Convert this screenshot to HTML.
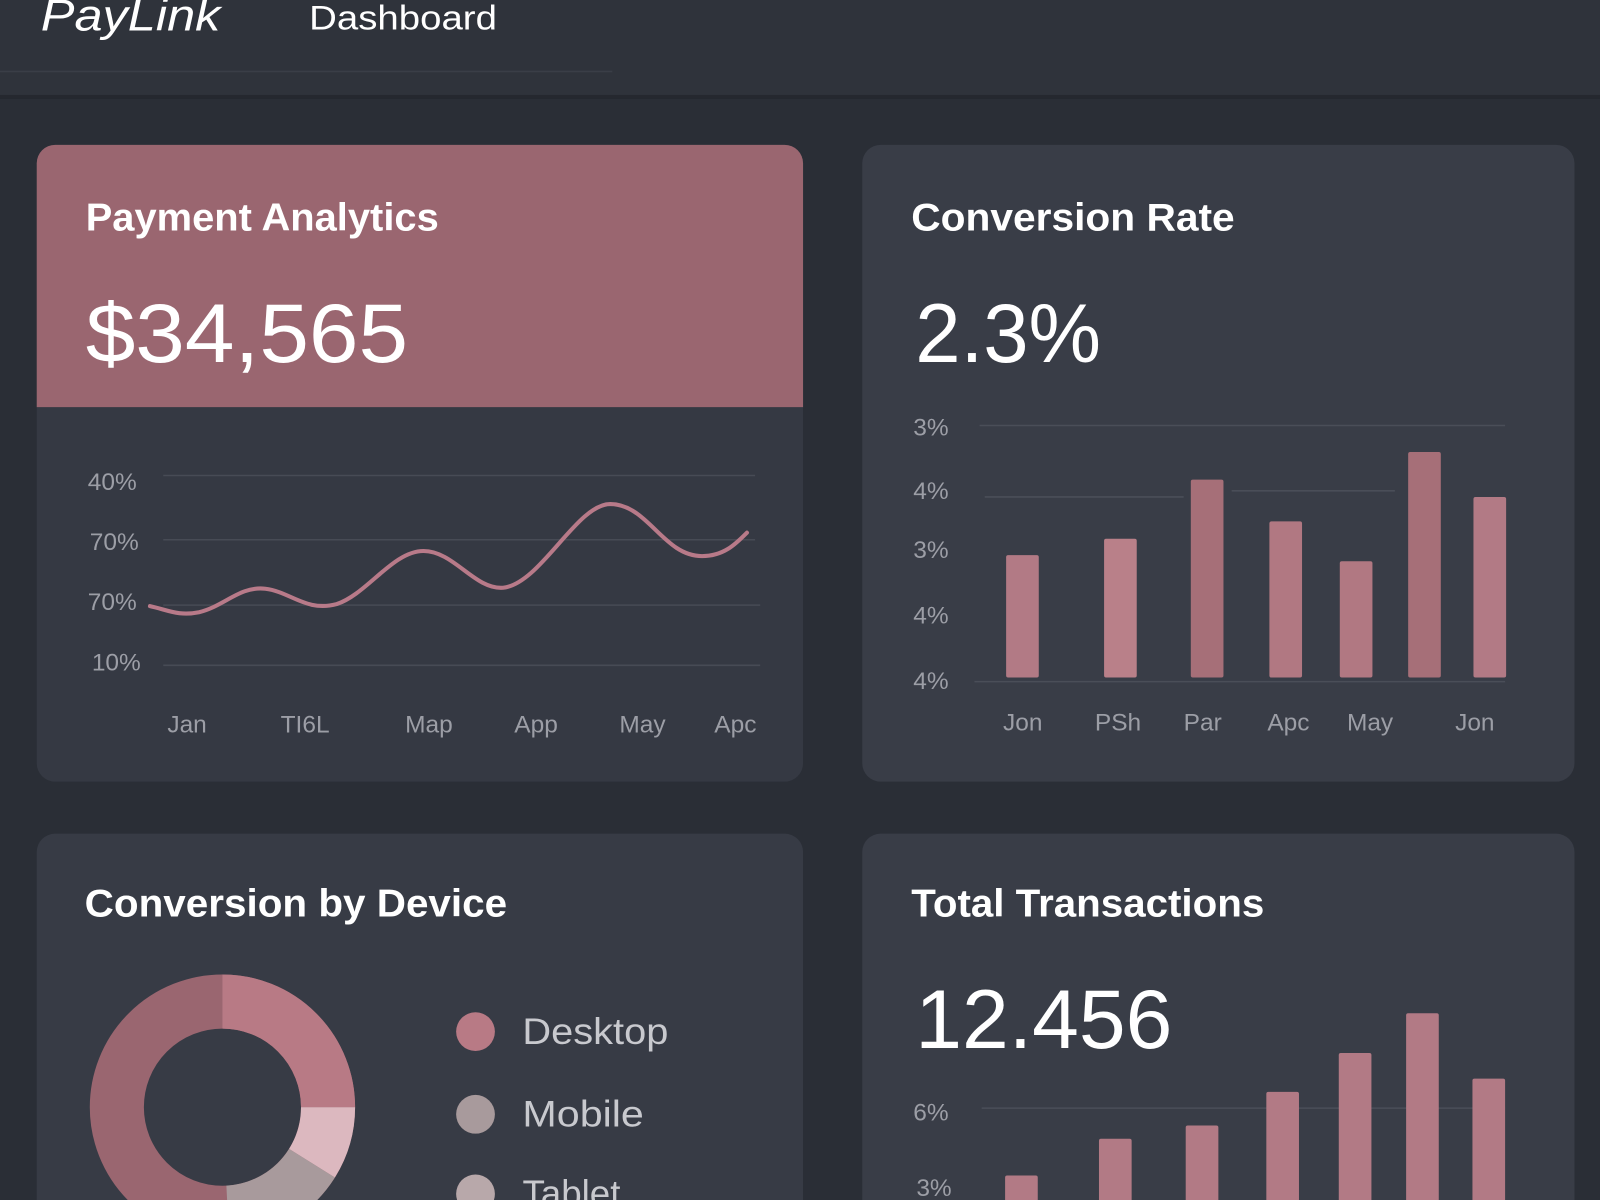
<!DOCTYPE html>
<html><head><meta charset="utf-8"><style>
html,body{margin:0;padding:0;background:#2a2e36;overflow:hidden}
svg{display:block}
text{font-family:"Liberation Sans",sans-serif}
</style></head><body>
<svg width="1600" height="1200" viewBox="0 0 1568 1176" xmlns="http://www.w3.org/2000/svg">
<rect width="1568" height="1176" fill="#2a2e36"/>
<rect width="1568" height="95" fill="#2f333b"/>
<rect y="93" width="1568" height="4" fill="#25282f"/>
<line x1="0" y1="70" x2="600" y2="70" stroke="#3a3e47" stroke-width="1.5"/>
<text x="40" y="30" font-size="44" font-style="italic" fill="#fff" textLength="176" lengthAdjust="spacingAndGlyphs">PayLink</text>
<text x="303" y="29" font-size="34" fill="#fff" textLength="184" lengthAdjust="spacingAndGlyphs">Dashboard</text>

<!-- card 1 -->
<rect x="36" y="142" width="751" height="624" rx="18" fill="#353943"/>
<path d="M54 142 H769 A18 18 0 0 1 787 160 V399 H36 V160 A18 18 0 0 1 54 142Z" fill="#9a6670"/>
<text x="84" y="226" font-size="38" font-weight="bold" fill="#fff" textLength="346" lengthAdjust="spacingAndGlyphs">Payment Analytics</text>
<text x="84" y="355" font-size="82" fill="#fff" textLength="316" lengthAdjust="spacingAndGlyphs">$34,565</text>
<g stroke="#474b55" stroke-width="1.5">
<line x1="160" y1="466" x2="740" y2="466"/><line x1="160" y1="529" x2="740" y2="529"/>
<line x1="160" y1="593" x2="745" y2="593"/><line x1="160" y1="652" x2="745" y2="652"/>
</g>
<g font-size="24" fill="#9c9ea6">
<text x="86" y="480">40%</text><text x="88" y="539">70%</text><text x="86" y="598">70%</text><text x="90" y="657">10%</text>
<text x="164" y="718">Jan</text><text x="275" y="718">TI6L</text><text x="397" y="718">Map</text><text x="504" y="718">App</text><text x="607" y="718">May</text><text x="700" y="718">Apc</text>
</g>
<path d="M147 594 C165 598,175 604,195 600 C220 594,235 574,260 577 C285 580,300 600,330 592 C360 582,385 540,415 540 C445 540,465 578,493 576 C530 572,565 494,598 494 C635 494,650 545,688 545 C710 545,722 532,732 522" fill="none" stroke="#b87a89" stroke-width="4" stroke-linecap="round"/>

<!-- card 2 -->
<rect x="845" y="142" width="698" height="624" rx="18" fill="#393d47"/>
<text x="893" y="226" font-size="38" font-weight="bold" fill="#fff" textLength="317" lengthAdjust="spacingAndGlyphs">Conversion Rate</text>
<text x="897" y="355" font-size="82" fill="#fff" textLength="182" lengthAdjust="spacingAndGlyphs">2.3%</text>
<g stroke="#4a4e58" stroke-width="1.5">
<line x1="960" y1="417" x2="1475" y2="417"/><line x1="965" y1="487" x2="1160" y2="487"/><line x1="1207" y1="481" x2="1367" y2="481"/>
<line x1="955" y1="668" x2="1475" y2="668"/>
</g>
<g font-size="24" fill="#9c9ea6">
<text x="895" y="427">3%</text><text x="895" y="489">4%</text><text x="895" y="547">3%</text><text x="895" y="611">4%</text><text x="895" y="675">4%</text>
<text x="983" y="716">Jon</text><text x="1073" y="716">PSh</text><text x="1160" y="716">Par</text><text x="1242" y="716">Apc</text><text x="1320" y="716">May</text><text x="1426" y="716">Jon</text>
</g>
<g>
<rect x="986" y="544" width="32" height="120" rx="2" fill="#b27a85"/>
<rect x="1082" y="528" width="32" height="136" rx="2" fill="#b98089"/>
<rect x="1167" y="470" width="32" height="194" rx="2" fill="#a66f78"/>
<rect x="1244" y="511" width="32" height="153" rx="2" fill="#b17882"/>
<rect x="1313" y="550" width="32" height="114" rx="2" fill="#b17882"/>
<rect x="1380" y="443" width="32" height="221" rx="2" fill="#a66f78"/>
<rect x="1444" y="487" width="32" height="177" rx="2" fill="#b27a85"/>
</g>

<!-- card 3 -->
<rect x="36" y="817" width="751" height="400" rx="18" fill="#373b45"/>
<text x="83" y="898" font-size="38" font-weight="bold" fill="#fff" textLength="414" lengthAdjust="spacingAndGlyphs">Conversion by Device</text>
<g transform="rotate(-90 218 1085)" fill="none" stroke-width="53">
<circle cx="218" cy="1085" r="103.5" stroke="#9a6670"/>
<circle cx="218" cy="1085" r="103.5" stroke="#b87a85" stroke-dasharray="162.6 1000"/>
<circle cx="218" cy="1085" r="103.5" stroke="#dcb8bf" stroke-dasharray="57.8 1000" stroke-dashoffset="-162.6"/>
<circle cx="218" cy="1085" r="103.5" stroke="#a89a9c" stroke-dasharray="99.4 1000" stroke-dashoffset="-220.4"/>
</g>
<circle cx="466" cy="1011" r="19" fill="#b87a85"/>
<circle cx="466" cy="1092" r="19" fill="#a89a9c"/>
<circle cx="466" cy="1170" r="19" fill="#b8a8aa"/>
<g font-size="36" fill="#c8c9ce">
<text x="512" y="1023" textLength="143" lengthAdjust="spacingAndGlyphs">Desktop</text><text x="512" y="1104" textLength="119" lengthAdjust="spacingAndGlyphs">Mobile</text><text x="512" y="1182">Tablet</text>
</g>

<!-- card 4 -->
<rect x="845" y="817" width="698" height="400" rx="18" fill="#393d47"/>
<text x="893" y="898" font-size="38" font-weight="bold" fill="#fff" textLength="346" lengthAdjust="spacingAndGlyphs">Total Transactions</text>
<text x="897" y="1027" font-size="82" fill="#fff" textLength="252" lengthAdjust="spacingAndGlyphs">12.456</text>
<line x1="962" y1="1086" x2="1475" y2="1086" stroke="#4a4e58" stroke-width="1.5"/>
<g font-size="24" fill="#9c9ea6"><text x="895" y="1098">6%</text><text x="898" y="1172">3%</text></g>
<g fill="#b27a85">
<rect x="985" y="1152" width="32" height="40" rx="2"/>
<rect x="1077" y="1116" width="32" height="80" rx="2"/>
<rect x="1162" y="1103" width="32" height="90" rx="2"/>
<rect x="1241" y="1070" width="32" height="120" rx="2"/>
<rect x="1312" y="1032" width="32" height="160" rx="2"/>
<rect x="1378" y="993" width="32" height="200" rx="2"/>
<rect x="1443" y="1057" width="32" height="140" rx="2"/>
</g>
</svg>
</body></html>
